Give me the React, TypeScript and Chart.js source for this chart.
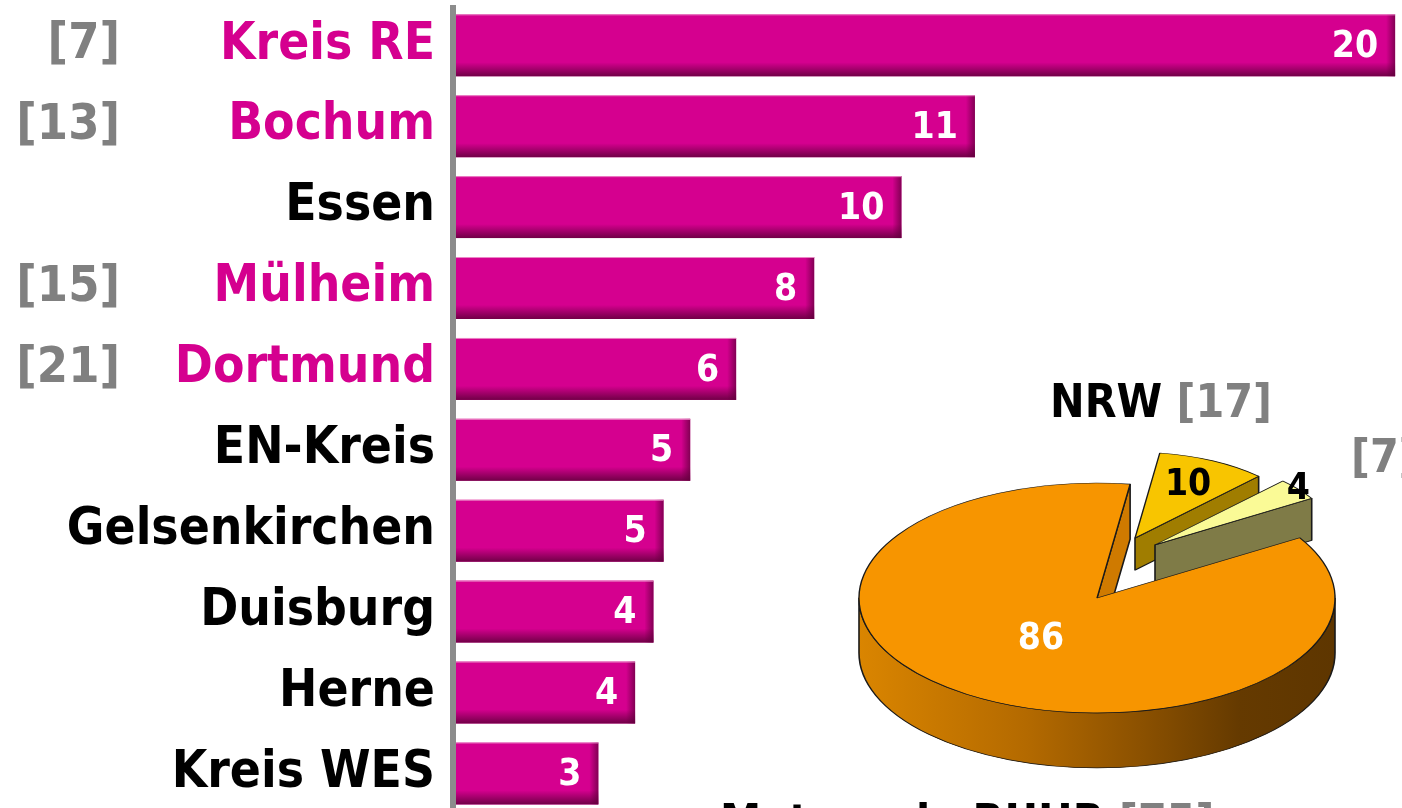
import React, { useEffect, useRef } from 'react';
import { Chart, registerables } from 'chart.js';

Chart.register(...registerables);

// ---------- data ----------
const CATEGORIES = ['Kreis RE', 'Bochum', 'Essen', 'Mülheim', 'Dortmund', 'EN-Kreis', 'Gelsenkirchen', 'Duisburg', 'Herne', 'Kreis WES'];
const VALUES = [20.45, 11.3, 9.7, 7.8, 6.1, 5.1, 4.52, 4.3, 3.9, 3.1];
const RANKS: (number | null)[] = [7, 13, null, 15, 21, null, null, null, null, null];
const X_MAX = 20.6;

const PIE_LABELS = ['NRW', '', 'Metropole RUHR'];
const PIE_VALUES = [10, 4, 86];
const PIE_RANKS = [17, 7, 75];

// ---------- style ----------
const FONT = '"DejaVu Sans Condensed", "DejaVu Sans", sans-serif';
const MAGENTA = '#D5008F';
const GRAY = '#808080';

const K = 0.483; // vertical flattening of the pie
const TOP_COLORS = ['#F8C500', '#FAFA96', '#F79500'];
const SIDE_COLORS = ['#A07D00', '#7F7B47', '#CF7A00'];
const LABEL_COLORS = ['#000000', '#000000', '#FFFFFF'];
const SLICE_R = [178, 184, 238];
const SLICE_SHIFT = [[40, -124], [60, -110], [2, 0]];
const DEPTHS = [32, 42, 55];
const LABEL_POS = [0.68, 1.0, 0.43];

const barDecor = {
  id: 'barDecor',
  afterDatasetsDraw(chart: any) {
    const ctx = chart.ctx as CanvasRenderingContext2D;
    const meta = chart.getDatasetMeta(0);
    const area = chart.chartArea;
    ctx.save();
    meta.data.forEach((el: any, i: number) => {
      const { x, y, base, height } = el.getProps(['x', 'y', 'base', 'height'], true);
      const top = y - height / 2;
      const bottom = y + height / 2;
      const left = Math.min(base, x);
      const right = Math.max(base, x);
      let g = ctx.createLinearGradient(0, bottom - 14, 0, bottom);
      g.addColorStop(0, 'rgba(95,0,58,0)');
      g.addColorStop(1, 'rgba(95,0,58,0.85)');
      ctx.fillStyle = g;
      ctx.fillRect(left, bottom - 14, right - left, 14);
      g = ctx.createLinearGradient(right - 9, 0, right, 0);
      g.addColorStop(0, 'rgba(95,0,58,0)');
      g.addColorStop(1, 'rgba(95,0,58,0.7)');
      ctx.fillStyle = g;
      ctx.fillRect(right - 9, top, 9, height);
      ctx.fillStyle = 'rgba(238,150,205,0.9)';
      ctx.fillRect(left, top, right - left, 1);
      ctx.fillStyle = '#FFFFFF';
      ctx.font = `bold 37px ${FONT}`;
      ctx.textAlign = 'right';
      ctx.textBaseline = 'middle';
      ctx.fillText(String(Math.round(VALUES[i])), right - 17, y + 2);
    });
    // axis line
    ctx.fillStyle = '#8C8C8C';
    ctx.fillRect(area.left - 6, 5, 6, chart.height);
    // ranks
    const yScale = chart.scales.y;
    ctx.font = `bold 50px ${FONT}`;
    ctx.fillStyle = GRAY;
    ctx.textAlign = 'right';
    ctx.textBaseline = 'middle';
    RANKS.forEach((r, i) => {
      if (r != null) ctx.fillText(`[${r}]`, 120, yScale.getPixelForValue(i));
    });
    ctx.restore();
  },
};

const pie3d = {
  id: 'pie3d',
  beforeDatasetsDraw(chart: any) {
    const ctx = chart.ctx as CanvasRenderingContext2D;
    const a = chart.chartArea;
    const cx = (a.left + a.right) / 2;
    const cy = (a.top + a.bottom) / 2;
    const els = chart.getDatasetMeta(0).data as any[];
    els.forEach((el, i) => {
      el.x = cx + SLICE_SHIFT[i][0];
      el.y = cy + SLICE_SHIFT[i][1];
      el.outerRadius = SLICE_R[i];
    });
    ctx.save();
    ctx.translate(0, cy);
    ctx.scale(1, K);
    ctx.translate(0, -cy);
    const slicePath = (el: any, dy: number) => {
      ctx.beginPath();
      ctx.moveTo(el.x, el.y + dy);
      ctx.arc(el.x, el.y + dy, el.outerRadius, el.startAngle, el.endAngle);
      ctx.closePath();
    };
    ctx.lineWidth = 1.6;
    ctx.strokeStyle = '#1A1A1A';
    ctx.lineJoin = 'round';
    els.forEach((el, i) => {
      const D = DEPTHS[i] / K;
      ctx.fillStyle = SIDE_COLORS[i];
      for (let d = D; d >= 0.5; d -= 0.5) {
        slicePath(el, d);
        ctx.fill();
      }
      const r = el.outerRadius;
      const s = el.startAngle;
      const e = el.endAngle;
      // curved front side
      for (let k = -1; k <= 1; k++) {
        const lo = Math.max(s, 2 * Math.PI * k);
        const hi = Math.min(e, 2 * Math.PI * k + Math.PI);
        if (lo < hi) {
          ctx.beginPath();
          ctx.arc(el.x, el.y, r, lo, hi);
          ctx.lineTo(el.x + r * Math.cos(hi), el.y + r * Math.sin(hi) + D);
          ctx.arc(el.x, el.y + D, r, hi, lo, true);
          ctx.closePath();
          if (i === 2) {
            const g = ctx.createLinearGradient(el.x - r, 0, el.x + r, 0);
            g.addColorStop(0, '#DA8500');
            g.addColorStop(0.35, '#B46A00');
            g.addColorStop(0.6, '#8A5000');
            g.addColorStop(0.8, '#653A00');
            g.addColorStop(1, '#5E3600');
            ctx.fillStyle = g;
          } else {
            ctx.fillStyle = SIDE_COLORS[i];
          }
          ctx.fill();
          ctx.stroke();
        }
      }
      // radial faces that face the viewer
      const faces: number[] = [];
      if (-Math.cos(s) > 0.001) faces.push(s);
      if (Math.cos(e) > 0.001) faces.push(e);
      faces.forEach((ang) => {
        const px = el.x + r * Math.cos(ang);
        const py = el.y + r * Math.sin(ang);
        ctx.beginPath();
        ctx.moveTo(el.x, el.y);
        ctx.lineTo(px, py);
        ctx.lineTo(px, py + D);
        ctx.lineTo(el.x, el.y + D);
        ctx.closePath();
        ctx.fillStyle = SIDE_COLORS[i];
        ctx.fill();
        ctx.stroke();
      });
    });
  },
  afterDatasetsDraw(chart: any) {
    const ctx = chart.ctx as CanvasRenderingContext2D;
    ctx.restore();
    const a = chart.chartArea;
    const cy = (a.top + a.bottom) / 2;
    const els = chart.getDatasetMeta(0).data as any[];
    ctx.save();
    els.forEach((el, i) => {
      const mid = (el.startAngle + el.endAngle) / 2;
      const r = el.outerRadius * LABEL_POS[i];
      const lx = el.x + Math.cos(mid) * r;
      const ly = cy + (el.y + Math.sin(mid) * r - cy) * K;
      ctx.fillStyle = LABEL_COLORS[i];
      ctx.font = `bold 37px ${FONT}`;
      ctx.textAlign = 'center';
      ctx.textBaseline = 'middle';
      ctx.fillText(String(PIE_VALUES[i]), lx, ly);
    });
    // group labels
    const drawPair = (name: string, rank: number, x: number, y: number) => {
      ctx.font = `bold 46px ${FONT}`;
      ctx.textAlign = 'left';
      ctx.textBaseline = 'alphabetic';
      let px = x;
      if (name) {
        ctx.fillStyle = '#000000';
        ctx.fillText(name + ' ', px, y);
        px += ctx.measureText(name + ' ').width;
      }
      ctx.fillStyle = GRAY;
      ctx.fillText(`[${rank}]`, px, y);
    };
    drawPair(PIE_LABELS[0], PIE_RANKS[0], 370, 139);
    drawPair(PIE_LABELS[1], PIE_RANKS[1], 671, 194);
    drawPair(PIE_LABELS[2], PIE_RANKS[2], 40, 559);
    ctx.restore();
  },
};

export default function App() {
  const barRef = useRef<HTMLCanvasElement>(null);
  const pieRef = useRef<HTMLCanvasElement>(null);

  useEffect(() => {
    const barChart = new Chart(barRef.current as HTMLCanvasElement, {
      type: 'bar',
      data: {
        labels: CATEGORIES,
        datasets: [
          {
            data: VALUES,
            backgroundColor: MAGENTA,
            borderWidth: 0,
            categoryPercentage: 1,
            barPercentage: 0.766,
          },
        ],
      },
      options: {
        indexAxis: 'y',
        responsive: false,
        animation: false,
        events: [],
        layout: { padding: { top: 4.85, bottom: 6.15, left: 0, right: 0 } },
        plugins: { legend: { display: false }, tooltip: { enabled: false } },
        scales: {
          x: { display: false, min: 0, max: X_MAX },
          y: {
            grid: { display: false, drawTicks: false },
            border: { display: false },
            ticks: {
              autoSkip: false,
              padding: 21,
              color: (c: any) => (RANKS[c.index] != null ? MAGENTA : '#000000'),
              font: { family: FONT, weight: 'bold', size: 51 },
            },
            afterFit: (s: any) => {
              s.width = 456;
              s.paddingTop = 0;
              s.paddingBottom = 0;
            },
          },
        },
      } as any,
      plugins: [barDecor],
    });

    const pieChart = new Chart(pieRef.current as HTMLCanvasElement, {
      type: 'pie',
      data: {
        labels: PIE_LABELS,
        datasets: [
          {
            data: PIE_VALUES,
            backgroundColor: TOP_COLORS,
            borderColor: '#1A1A1A',
            borderWidth: 1.4,
            clip: false,
          } as any,
        ],
      },
      options: {
        responsive: false,
        animation: false,
        events: [],
        rotation: 8,
        radius: 238,
        layout: { padding: { left: 70, right: 0, top: 0, bottom: 0 } },
        plugins: { legend: { display: false }, tooltip: { enabled: false } },
      } as any,
      plugins: [pie3d],
    });

    return () => {
      barChart.destroy();
      pieChart.destroy();
    };
  }, []);

  return (
    <div style={{ position: 'fixed', left: 0, top: 0, width: 1402, height: 808, overflow: 'hidden', background: '#FFFFFF' }}>
      <canvas ref={barRef} width={1402} height={820} style={{ position: 'absolute', left: 0, top: 0 }} />
      <canvas ref={pieRef} width={760} height={640} style={{ position: 'absolute', left: 680, top: 278 }} />
    </div>
  );
}
